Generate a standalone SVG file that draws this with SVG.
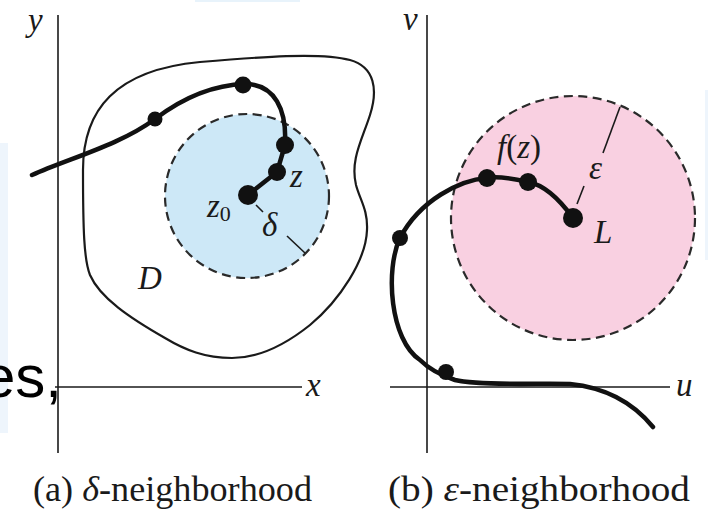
<svg xmlns="http://www.w3.org/2000/svg" width="708" height="518" viewBox="0 0 708 518">
<style>
.axis{stroke:#1a1a1a;stroke-width:1.6;fill:none}
.blob{stroke:#1a1a1a;stroke-width:2.2;fill:none}
.curve{stroke:#111;stroke-width:4.5;fill:none;stroke-linecap:round;stroke-linejoin:round}
.dash{stroke:#2a2a2a;stroke-width:2.2;stroke-dasharray:9 5.5}
.rad{stroke:#1a1a1a;stroke-width:1.6;fill:none}
.dot{fill:#111}
.lbl{font-family:"Liberation Serif","Times New Roman",serif;font-style:italic;font-size:33px;fill:#1a1a1a}
.cap{font-family:"Liberation Serif","Times New Roman",serif;font-size:36px;fill:#1a1a1a}
.slide{font-family:"Liberation Sans",Arial,sans-serif;font-size:60px;fill:#000}
</style>
<rect width="708" height="518" fill="#ffffff"/>
<rect x="0" y="143" width="8" height="290" fill="#eef5fc"/>
<rect x="195" y="0" width="105" height="2" fill="#e8f3fb"/>
<rect x="705" y="90" width="3" height="170" fill="#eef5fc"/>
<text class="slide" x="-18" y="397">es,</text>

<g id="panel-a">
  <g id="axes-a">
    <line class="axis" x1="58" y1="15" x2="58" y2="453"/>
    <line class="axis" x1="55" y1="387" x2="302" y2="387"/>
    <text class="lbl" x="28" y="31">y</text>
    <text class="lbl" x="306" y="396">x</text>
  </g>
  <g id="region-D">
    <path class="blob" d="M83,170 C83,110 115,70 200,62 C260,57 320,52 350,60 C375,67 378,90 370,115 C362,140 350,160 356,185 C360,200 368,210 367,230 C366,260 340,300 310,325 C285,345 260,358 232,358 C205,358 185,350 165,338 C130,318 100,298 90,275 C84,260 83,230 83,170 Z"/>
    <text class="lbl" x="138" y="289">D</text>
  </g>
  <g id="delta-disk">
    <circle class="dash" cx="247" cy="196" r="82" fill="#cde8f7"/>
    <line class="rad" x1="256" y1="205" x2="263" y2="212"/>
    <line class="rad" x1="287" y1="236" x2="305" y2="253"/>
    <text class="lbl" x="262" y="236">δ</text>
  </g>
  <g id="path-a">
    <path class="curve" d="M32,175 C70,158 120,145 155,119 C180,100 210,85 245,84 C275,84 287,110 285,145 L277,172 L248,195"/>
    <circle class="dot" cx="155" cy="119" r="7.5"/>
    <circle class="dot" cx="243" cy="85" r="8.5"/>
    <circle class="dot" cx="285" cy="145" r="9"/>
    <circle class="dot" cx="277" cy="172" r="9"/>
    <circle class="dot" cx="248" cy="195" r="10"/>
    <text class="lbl" x="290" y="187">z</text>
    <text class="lbl" x="207" y="217">z<tspan font-size="22" font-style="normal" dy="4">0</tspan></text>
  </g>
  <text id="caption-a" class="cap" x="33" y="501" textLength="279" lengthAdjust="spacingAndGlyphs">(a) <tspan font-style="italic">δ</tspan>-neighborhood</text>
</g>

<g id="panel-b">
  <g id="axes-b">
    <line class="axis" x1="427" y1="15" x2="427" y2="453"/>
    <line class="axis" x1="390" y1="387" x2="670" y2="387"/>
    <text class="lbl" x="403" y="30">v</text>
    <text class="lbl" x="676" y="396">u</text>
  </g>
  <g id="epsilon-disk">
    <circle class="dash" cx="573" cy="218" r="122" fill="#f9d0e1"/>
    <line class="rad" x1="577" y1="204" x2="584" y2="186"/>
    <line class="rad" x1="603" y1="153" x2="620" y2="107"/>
    <text class="lbl" x="589" y="179">ε</text>
  </g>
  <g id="path-b">
    <path class="curve" d="M573,218 C560,200 545,185 528,182 C510,178 495,176 487,178 C460,180 420,200 400,238 C385,270 390,340 420,360 C430,370 440,375 455,380 C480,386 540,383 570,384 C610,388 635,405 653,427"/>
    <circle class="dot" cx="528" cy="182" r="9"/>
    <circle class="dot" cx="487" cy="178" r="9"/>
    <circle class="dot" cx="400" cy="238" r="8"/>
    <circle class="dot" cx="446" cy="372" r="8"/>
    <circle class="dot" cx="573" cy="218" r="10"/>
    <text class="lbl" x="497" y="158">f<tspan font-style="normal">(</tspan>z<tspan font-style="normal">)</tspan></text>
    <text class="lbl" x="594" y="243">L</text>
  </g>
  <text id="caption-b" class="cap" x="388" y="501" textLength="302" lengthAdjust="spacingAndGlyphs">(b) <tspan font-style="italic">ε</tspan>-neighborhood</text>
</g>
</svg>
